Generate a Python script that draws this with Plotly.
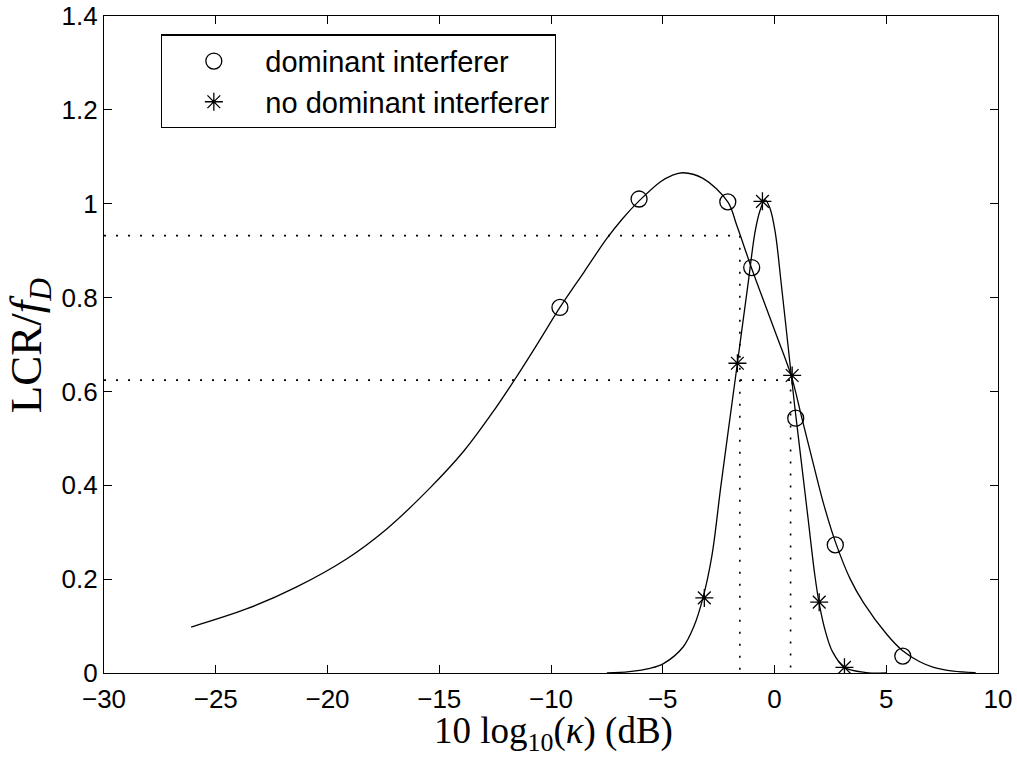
import plotly.graph_objects as go

# ---- data ----
dom_curve_x = [-26.1, -23.6, -21.4, -19.15, -17.35, -15.4, -13.9, -12.5, -11.6, -10.6,
               -9.6, -8.5, -7.5, -6.8, -6.06, -5.1, -4.6, -4.1, -3.2, -2.09, -1.69,
               -1.02, -0.5, 0.1, 0.77, 1.2, 1.74, 2.2, 2.72, 3.39, 3.98, 5.03, 5.72,
               6.5, 7.12, 8.0, 9.0]
dom_curve_y = [0.098, 0.137, 0.183, 0.243, 0.307, 0.395, 0.473, 0.563, 0.627, 0.702,
               0.779, 0.856, 0.926, 0.968, 1.006, 1.047, 1.060, 1.066, 1.054, 1.004, 0.954,
               0.862, 0.795, 0.718, 0.630, 0.548, 0.445, 0.360, 0.280, 0.200, 0.150, 0.082, 0.048,
               0.024, 0.012, 0.004, 0.001]

nodom_curve_x = [-7.5, -6.5, -5.57, -4.97, -4.08, -3.6, -3.2, -2.8, -2.39, -1.66,
                 -1.47, -1.17, -0.87, -0.65, -0.42, -0.2, 0.03, 0.3, 0.6, 0.9,
                 1.2, 1.5, 1.8, 2.0, 2.3, 2.6, 3.13, 4.1, 5.0]
nodom_curve_y = [0.0, 0.003, 0.010, 0.020, 0.056, 0.100, 0.160, 0.250, 0.402, 0.660,
                 0.728, 0.834, 0.940, 0.985, 1.008, 0.990, 0.940, 0.830, 0.700, 0.570,
                 0.450, 0.330, 0.210, 0.148, 0.085, 0.045, 0.012, 0.001, 0.0]

dom_mark_x = [-9.6, -6.06, -2.09, -1.02, 0.95, 2.72, 5.74]
dom_mark_y = [0.779, 1.010, 1.004, 0.864, 0.543, 0.273, 0.036]

nodom_mark_x = [-3.14, -1.66, -0.54, 0.79, 2.0, 3.13]
nodom_mark_y = [0.160, 0.660, 1.005, 0.634, 0.151, 0.012]

guide_levels = [0.932, 0.624]
guide_x = [-1.55, 0.72]

x_ticks = [-30, -25, -20, -15, -10, -5, 0, 5, 10]
y_ticks = [0, 0.2, 0.4, 0.6, 0.8, 1, 1.2, 1.4]
y_tick_text = ["0", "0.2", "0.4", "0.6", "0.8", "1", "1.2", "1.4"]
x_tick_text = ["\u221230", "\u221225", "\u221220", "\u221215", "\u221210", "\u22125", "0", "5", "10"]

legend_names = ["dominant interferer", "no dominant interferer"]
x_title = "10 log<sub>10</sub>(<i>\u03ba</i>) (dB)"
y_title = "LCR/<i>f</i><sub><i>D</i></sub>"

fig = go.Figure()

# dotted guide lines
for lv, gx in zip(guide_levels, guide_x):
    fig.add_trace(go.Scatter(
        x=[x_ticks[0], gx, gx], y=[lv, lv, y_ticks[0]], mode="lines",
        line=dict(color="black", width=1.6, dash="2px,10px"),
        showlegend=False, hoverinfo="skip"))

# curves
fig.add_trace(go.Scatter(x=dom_curve_x, y=dom_curve_y, mode="lines",
                         line=dict(color="black", width=1.3, shape="spline", smoothing=1.0),
                         showlegend=False))
fig.add_trace(go.Scatter(x=nodom_curve_x, y=nodom_curve_y, mode="lines",
                         line=dict(color="black", width=1.3, shape="spline", smoothing=1.0),
                         showlegend=False))

# markers
fig.add_trace(go.Scatter(x=dom_mark_x, y=dom_mark_y, mode="markers", name=legend_names[0],
                         marker=dict(symbol="circle-open", size=16, color="black",
                                     line=dict(width=1.3, color="black"))))
fig.add_trace(go.Scatter(x=nodom_mark_x, y=nodom_mark_y, mode="markers", name=legend_names[1],
                         marker=dict(symbol="asterisk-open", size=15, color="black",
                                     line=dict(width=1.3, color="black"))))

axis_common = dict(showline=True, linecolor="black", linewidth=1.3, mirror="allticks",
                   ticks="inside", ticklen=8, tickwidth=1.2, tickcolor="black",
                   showgrid=False, zeroline=False, ticklabeloverflow="allow",
                   automargin=False,
                   tickfont=dict(family="Liberation Sans, Arial", size=26, color="black"))

fig.update_layout(
    width=1017, height=758,
    margin=dict(l=104, r=19, t=16, b=85),
    paper_bgcolor="white", plot_bgcolor="white",
    xaxis=dict(range=[-30, 10], tickvals=x_ticks, ticktext=x_tick_text,
               ticklabelstandoff=3, **axis_common),
    yaxis=dict(range=[0, 1.4], tickvals=y_ticks, ticktext=y_tick_text,
               **axis_common),
    legend=dict(x=0.0638, y=0.972, xanchor="left", yanchor="top",
                bgcolor="white", bordercolor="black", borderwidth=1.3,
                font=dict(family="Liberation Sans, Arial", size=29, color="black"),
                itemwidth=93, tracegroupgap=0),
    annotations=[
        dict(text=x_title, xref="paper", yref="paper", x=0.503, y=-0.092,
             xanchor="center", yanchor="middle", showarrow=False,
             font=dict(family="Liberation Serif, DejaVu Serif", size=37, color="black")),
        dict(text=y_title, xref="paper", yref="paper", x=-0.083, y=0.4985,
             xanchor="center", yanchor="middle", showarrow=False, textangle=-90,
             font=dict(family="Liberation Serif, DejaVu Serif", size=45, color="black")),
    ],
)

fig.write_html("out.html")
